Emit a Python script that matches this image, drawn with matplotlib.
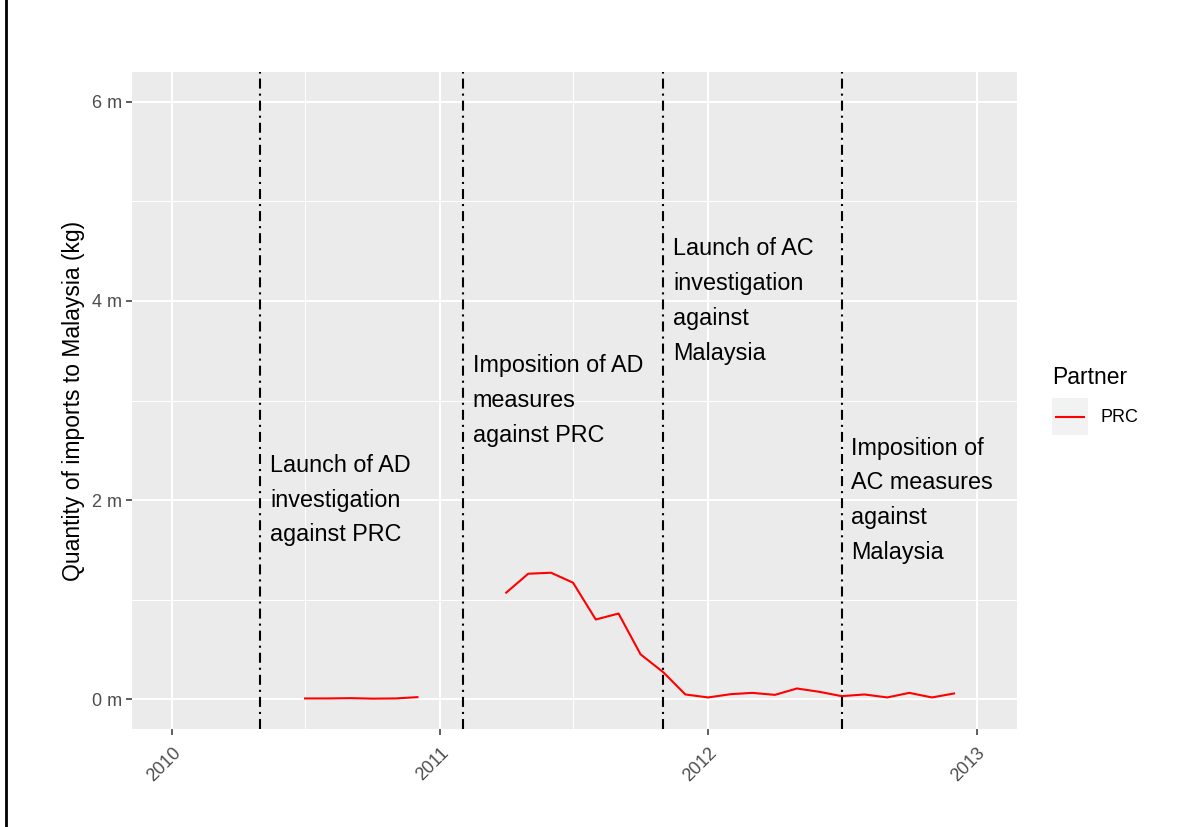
"""
Recreate: PRC imports to Malaysia with trade-remedy milestone lines.
"""

import matplotlib
matplotlib.use("Agg")
import matplotlib.pyplot as plt
import matplotlib.dates as mdates
from matplotlib.lines import Line2D
from matplotlib.patches import Rectangle
from matplotlib.ticker import FuncFormatter, FixedLocator
import datetime as dt

plt.rcParams["font.family"] = ["Liberation Sans", "DejaVu Sans"]

# -- Data (millions of kg, monthly) -------------------------------------------
months_2010 = ["2010-07", "2010-08", "2010-09", "2010-10", "2010-11", "2010-12"]
values_2010 = [0.007, 0.007, 0.010, 0.005, 0.007, 0.020]

months_2011 = ["2011-04", "2011-05", "2011-06", "2011-07", "2011-08",
               "2011-09", "2011-10", "2011-11", "2011-12",
               "2012-01", "2012-02", "2012-03", "2012-04", "2012-05",
               "2012-06", "2012-07", "2012-08", "2012-09", "2012-10",
               "2012-11", "2012-12"]
values_2011 = [1.07, 1.26, 1.27, 1.17, 0.80,
               0.86, 0.45, 0.27, 0.047,
               0.017, 0.050, 0.063, 0.043, 0.107,
               0.073, 0.030, 0.047, 0.017, 0.063,
               0.017, 0.057]

event_dates = ["2010-05-01", "2011-02-01", "2011-11-01", "2012-07-01"]
event_labels = [
    "Launch of AD\ninvestigation\nagainst PRC",
    "Imposition of AD\nmeasures\nagainst PRC",
    "Launch of AC\ninvestigation\nagainst\nMalaysia",
    "Imposition of\nAC measures\nagainst\nMalaysia",
]
event_label_y = [2.0, 3.0, 4.0, 2.0]

y_ticks = [0, 2, 4, 6]
x_years = [2010, 2011, 2012, 2013]

# -- Colours ------------------------------------------------------------------
PANEL_BG = "#EBEBEB"
GRID     = "#FFFFFF"
TICK_COL = "#4D4D4D"
LINE_RED = "#FF0000"


def to_dates(strs):
    return [dt.datetime.strptime(s + "-01", "%Y-%m-%d") for s in strs]


fig = plt.figure(figsize=(12.03, 8.27), dpi=100)
fig.patch.set_facecolor("white")
ax = fig.add_axes([0.1097, 0.1185, 0.8454 - 0.1097, 0.9129 - 0.1185])
ax.set_facecolor(PANEL_BG)
for sp in ax.spines.values():
    sp.set_visible(False)

# x range: 2010-2013 with 5 % expansion
x0 = mdates.date2num(dt.datetime(2010, 1, 1))
x1 = mdates.date2num(dt.datetime(2013, 1, 1))
pad = 0.05 * (x1 - x0)
ax.set_xlim(x0 - pad, x1 + pad)
ax.set_ylim(-0.3, 6.3)

# grid
major_x = [mdates.date2num(dt.datetime(y, 1, 1)) for y in x_years]
minor_x = [mdates.date2num(dt.datetime(y, 7, 1)) for y in x_years[:-1]]
ax.xaxis.set_major_locator(FixedLocator(major_x))
ax.xaxis.set_minor_locator(FixedLocator(minor_x))
ax.yaxis.set_major_locator(FixedLocator(y_ticks))
ax.yaxis.set_minor_locator(FixedLocator([1, 3, 5]))
ax.grid(which="major", color=GRID, linewidth=1.5)
ax.grid(which="minor", color=GRID, linewidth=0.75)
ax.set_axisbelow(True)

ax.set_xticklabels([str(y) for y in x_years])
ax.yaxis.set_major_formatter(FuncFormatter(lambda v, p: f"{int(v)} m"))
ax.tick_params(axis="both", which="major", color="#333333", length=4,
               width=1.1, labelcolor=TICK_COL, labelsize=13, pad=3)
ax.tick_params(axis="x", which="major", pad=7)
ax.tick_params(axis="both", which="minor", length=0)
for lab in ax.get_xticklabels():
    lab.set_rotation(45)
    lab.set_ha("right")
    lab.set_va("top")
    lab.set_rotation_mode("anchor")

# data
ax.plot(to_dates(months_2010), values_2010, color=LINE_RED, lw=1.5)
ax.plot(to_dates(months_2011), values_2011, color=LINE_RED, lw=1.5)

# event lines and labels
for d, lab, yl in zip(event_dates, event_labels, event_label_y):
    xd = dt.datetime.strptime(d, "%Y-%m-%d")
    ax.axvline(xd, color="black", lw=1.5, linestyle=(0, (4.8, 2.4, 1, 2.4)))
    ax.annotate(lab, xy=(xd, yl), xytext=(7, 0), textcoords="offset points",
                ha="left", va="center", fontsize=16.8, color="black",
                linespacing=1.65)

ax.set_ylabel("Quantity of imports to Malaysia (kg)", fontsize=16.5,
              color="black", labelpad=5)

# legend (drawn by hand, ggplot style)
fig.text(1052 / 1203, 1 - 377 / 827, "Partner", fontsize=16.5,
         ha="left", va="center")
fig.add_artist(Rectangle((1052 / 1203, 1 - 435 / 827), 36 / 1203, 37 / 827,
                         transform=fig.transFigure, facecolor="#F2F2F2",
                         edgecolor="none"))
fig.add_artist(Line2D([1056 / 1203, 1084 / 1203], [1 - 417 / 827] * 2,
                      transform=fig.transFigure, color=LINE_RED, lw=1.5))
fig.text(1100 / 1203, 1 - 417 / 827, "PRC", fontsize=13, ha="left",
         va="center")

# left frame line
fig.add_artist(Line2D([6 / 1203] * 2, [0, 1], transform=fig.transFigure,
                      color="black", lw=2))

fig.savefig("out.png", dpi=100, facecolor="white")
